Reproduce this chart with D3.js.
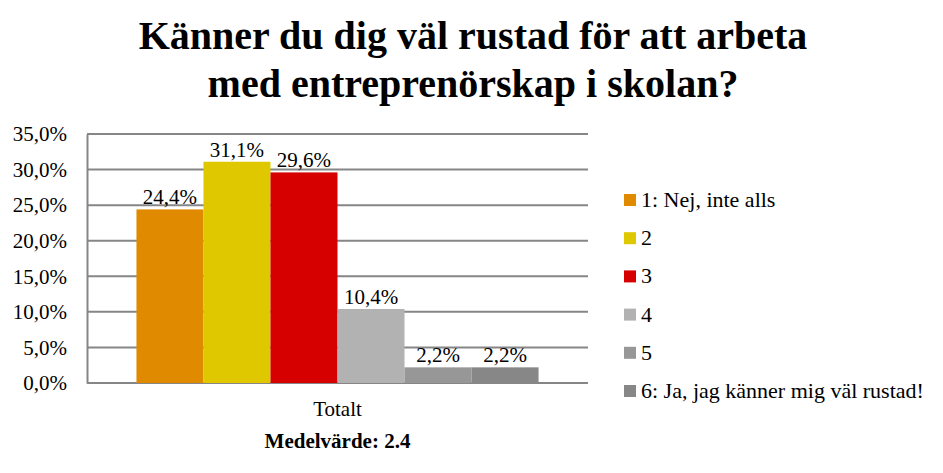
<!DOCTYPE html>
<html>
<head>
<meta charset="utf-8">
<script src="https://cdn.jsdelivr.net/npm/d3@7"></script>
<style>
  body { margin: 0; background: #fff; }
  text { font-family: "Liberation Serif", "Times New Roman", serif; fill: #000; }
</style>
</head>
<body>
<svg id="chart" width="943" height="473"></svg>
<script>
// data
var categories = ["1: Nej, inte alls", "2", "3", "4", "5", "6: Ja, jag känner mig väl rustad!"];
var values = [24.4, 31.1, 29.6, 10.4, 2.2, 2.2];
var colors = ["#e08a00", "#e0c800", "#d60000", "#b2b2b2", "#979797", "#878787"];
var yTicks = [0, 5, 10, 15, 20, 25, 30, 35];
var titleLines = ["Känner du dig väl rustad för att arbeta", "med entreprenörskap i skolan?"];
var groupLabel = "Totalt";
var meanLabel = "Medelvärde: 2.4";

var m = { top: 134, right: 355, bottom: 90, left: 87 };
var W = 943, H = 473;
var w = W - m.left - m.right;
var h = H - m.top - m.bottom;

var svg = d3.select("#chart");

// title
svg.append("g").selectAll("text")
  .data(titleLines)
  .enter().append("text")
  .attr("x", 473)
  .attr("y", function (d, i) { return 49 + i * 48; })
  .attr("text-anchor", "middle")
  .style("font-size", "40px")
  .style("font-weight", "bold")
  .text(function (d) { return d; });

var g = svg.append("g").attr("transform", "translate(" + m.left + "," + m.top + ")");

var y = d3.scaleLinear().domain([0, 35]).range([h, 0]);
var x0 = d3.scaleBand().domain([groupLabel]).range([0, w]).paddingInner(0).paddingOuter(0.123);
var x1 = d3.scaleBand().domain(categories).range([0, x0.bandwidth()]);

// gridlines
g.append("g").selectAll("line")
  .data(yTicks)
  .enter().append("line")
  .attr("x1", 0).attr("x2", w)
  .attr("y1", function (d) { return y(d); })
  .attr("y2", function (d) { return y(d); })
  .attr("stroke", "#868686")
  .attr("stroke-width", 2);

// y axis
var fmt = function (d) { return d.toFixed(1).replace(".", ",") + "%"; };
var yAxis = d3.axisLeft(y).tickValues(yTicks).tickFormat(fmt).tickSize(0).tickPadding(20);
var ya = g.append("g").call(yAxis);
ya.select(".domain").attr("stroke", "#868686").attr("stroke-width", 2);
ya.selectAll("text").style("font-size", "21px").style("font-family", "Liberation Serif").attr("fill", "#000");

// bars
var grp = g.append("g").attr("transform", "translate(" + x0(groupLabel) + ",0)");
grp.selectAll("rect")
  .data(values)
  .enter().append("rect")
  .attr("x", function (d, i) { return x1(categories[i]); })
  .attr("width", x1.bandwidth())
  .attr("y", function (d) { return y(d); })
  .attr("height", function (d) { return h - y(d); })
  .attr("fill", function (d, i) { return colors[i]; });

grp.selectAll("text.lbl")
  .data(values)
  .enter().append("text")
  .attr("class", "lbl")
  .attr("x", function (d, i) { return x1(categories[i]) + x1.bandwidth() / 2; })
  .attr("y", function (d) { return y(d) - 5; })
  .attr("text-anchor", "middle")
  .style("font-size", "21px")
  .text(function (d) { return d.toFixed(1).replace(".", ",") + "%"; });

// category + mean labels
g.append("text")
  .attr("x", x0(groupLabel) + x0.bandwidth() / 2)
  .attr("y", h + 33)
  .attr("text-anchor", "middle")
  .style("font-size", "21px")
  .text(groupLabel);

g.append("text")
  .attr("x", x0(groupLabel) + x0.bandwidth() / 2)
  .attr("y", h + 65)
  .attr("text-anchor", "middle")
  .style("font-size", "21px")
  .style("font-weight", "bold")
  .text(meanLabel);

// legend
var leg = svg.append("g").attr("transform", "translate(624,200)");
var row = leg.selectAll("g")
  .data(categories)
  .enter().append("g")
  .attr("transform", function (d, i) { return "translate(0," + i * 38.2 + ")"; });
row.append("rect")
  .attr("x", 0).attr("y", -6)
  .attr("width", 12).attr("height", 12)
  .attr("fill", function (d, i) { return colors[i]; });
row.append("text")
  .attr("x", 17).attr("y", 7)
  .style("font-size", "22px")
  .text(function (d) { return d; });
</script>
</body>
</html>
